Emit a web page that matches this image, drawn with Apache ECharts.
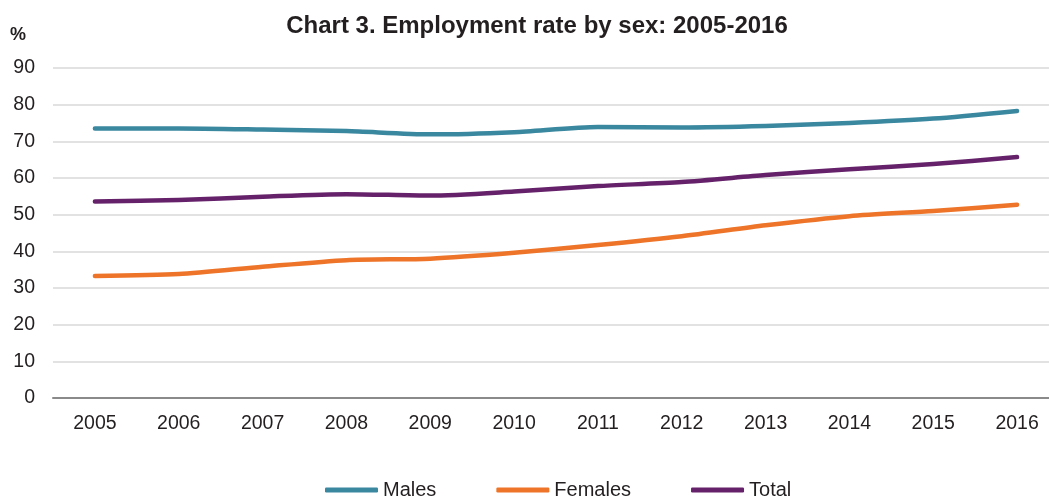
<!DOCTYPE html>
<html>
<head>
<meta charset="utf-8">
<title>Employment rate by sex: 2005-2016</title>
<script src="https://cdn.jsdelivr.net/npm/echarts@6/dist/echarts.min.js"></script>
<style>
  html, body { margin: 0; padding: 0; background: #ffffff; }
  #chart { width: 1049px; height: 497px; }
</style>
</head>
<body>
<div id="chart"></div>
<script>
// Years on the category axis
const years = ['2005', '2006', '2007', '2008', '2009', '2010', '2011', '2012', '2013', '2014', '2015', '2016'];

// Employment rate, %
const males   = [73.5, 73.5, 73.2, 72.8, 71.9, 72.5, 73.9, 73.8, 74.2, 75.0, 76.2, 78.3];
const females = [33.3, 33.8, 35.8, 37.6, 38.0, 39.6, 41.7, 44.1, 47.1, 49.6, 51.0, 52.7];
const total   = [53.6, 54.0, 54.9, 55.6, 55.2, 56.3, 57.8, 58.9, 60.8, 62.4, 63.8, 65.7];

const seriesNames = ['Males', 'Females', 'Total'];
const seriesData = [males, females, total];
const colors = ['#3a87a0', '#ed7428', '#65226a'];

const FONT = '"Liberation Sans", Arial, sans-serif';

const chart = echarts.init(document.getElementById('chart'), null, { renderer: 'canvas' });

chart.setOption({
  animation: false,
  backgroundColor: '#ffffff',
  title: {
    text: 'Chart 3. Employment rate by sex: 2005-2016',
    left: 532,
    textAlign: 'center',
    top: 9,
    textStyle: { fontFamily: FONT, fontSize: 24, fontWeight: 'bold', color: '#231f20' }
  },
  graphic: [{
    type: 'text',
    left: 10,
    top: 26,
    style: { text: '%', fontFamily: FONT, fontSize: 18, fontWeight: 'bold', fill: '#231f20' }
  }],
  legend: {
    data: seriesNames.map((n, i) => ({ name: n, icon: 'roundRect', itemStyle: { color: colors[i] } })),
    top: 475,
    left: 320,
    itemWidth: 53,
    itemHeight: 5,
    itemGap: 60,
    textStyle: { fontFamily: FONT, fontSize: 20, color: '#231f20' }
  },
  grid: { left: 53, width: 1006, top: 68, height: 330, outerBoundsMode: 'none', containLabel: false },
  xAxis: {
    type: 'category',
    data: years,
    boundaryGap: true,
    axisLine: { show: true, lineStyle: { color: '#8a8a8a', width: 2 } },
    axisTick: { show: false },
    axisLabel: { margin: 16, fontFamily: FONT, fontSize: 19.5, color: '#231f20' }
  },
  yAxis: {
    type: 'value',
    min: 0,
    max: 90,
    interval: 10,
    axisLine: { show: false },
    axisTick: { show: false },
    axisLabel: { margin: 18, fontFamily: FONT, fontSize: 19.5, color: '#231f20' },
    splitLine: { lineStyle: { color: '#d9d9d9', width: 1.5 } }
  },
  series: seriesNames.map((name, i) => ({
    name: name,
    type: 'line',
    data: seriesData[i],
    smooth: 0.25,
    showSymbol: false,
    symbol: 'none',
    lineStyle: { color: colors[i], width: 4.5, cap: 'round', join: 'round' },
    itemStyle: { color: colors[i] }
  }))
});
</script>
</body>
</html>
